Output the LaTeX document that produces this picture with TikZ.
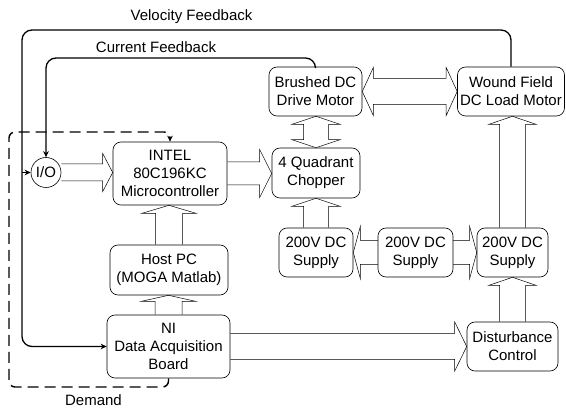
\documentclass[tikz,border=0pt]{standalone}
\usepackage{fontspec}
\setmainfont{Liberation Sans}
\usetikzlibrary{calc,arrows.meta}
\pgfdeclarelayer{bg}
\pgfsetlayers{bg,main}

\tikzset{
  box/.style={draw, line width=0.6pt, rounded corners=8pt, fill=white,
    align=center, inner sep=2pt, font=\fontsize{15}{18}\selectfont},
  blk/.style={draw, line width=0.5pt, fill=white, line join=miter},
  fb/.style={line width=1.3pt, rounded corners=10pt,
    -{Stealth[length=6pt,width=5.5pt]}},
  dem/.style={line width=1.4pt, dash pattern=on 11pt off 6pt,
    rounded corners=6pt, -{Stealth[length=6pt,width=5.5pt]}},
  lbl/.style={font=\fontsize{15}{18}\selectfont, inner sep=0pt}
}

% hollow block arrows: #1 start anchor, #2 end anchor,
% #3 shaft half width, #4 head half width, #5 head length
\newcommand\blkup[5]{\draw[blk] let \p1=(#1),\p2=(#2) in
  (\x1-#3,\y1) -- (\x1-#3,\y2-#5) -- (\x1-#4,\y2-#5) -- (\x1,\y2)
  -- (\x1+#4,\y2-#5) -- (\x1+#3,\y2-#5) -- (\x1+#3,\y1);}
\newcommand\blkupdown[5]{\draw[blk] let \p1=(#1),\p2=(#2) in
  (\x1-#3,\y1+#5) -- (\x1-#3,\y2-#5) -- (\x1-#4,\y2-#5) -- (\x1,\y2)
  -- (\x1+#4,\y2-#5) -- (\x1+#3,\y2-#5) -- (\x1+#3,\y1+#5)
  -- (\x1+#4,\y1+#5) -- (\x1,\y1) -- (\x1-#4,\y1+#5) -- cycle;}
\newcommand\blkright[5]{\draw[blk] let \p1=(#1),\p2=(#2) in
  (\x1,\y1+#3) -- (\x2-#5,\y1+#3) -- (\x2-#5,\y1+#4) -- (\x2,\y1)
  -- (\x2-#5,\y1-#4) -- (\x2-#5,\y1-#3) -- (\x1,\y1-#3);}
\newcommand\blkboth[5]{\draw[blk] let \p1=(#1),\p2=(#2) in
  (\x1+#5,\y1+#3) -- (\x2-#5,\y1+#3) -- (\x2-#5,\y1+#4) -- (\x2,\y1)
  -- (\x2-#5,\y1-#4) -- (\x2-#5,\y1-#3) -- (\x1+#5,\y1-#3)
  -- (\x1+#5,\y1-#4) -- (\x1,\y1) -- (\x1+#5,\y1+#4) -- cycle;}

\begin{document}
\begin{tikzpicture}[x=1pt, y=-1pt]
\useasboundingbox (0,0) rectangle (566,409);

% blocks
\node[box, minimum width=114pt, minimum height=63pt] (intel) at (170,173.5)
  {INTEL\\80C196KC\\Microcontroller};
\node[box, minimum width=118pt, minimum height=50pt] (host) at (169,270)
  {Host PC\\(MOGA Matlab)};
\node[box, minimum width=123pt, minimum height=63pt] (daq) at (168.5,346.5)
  {NI\\Data Acquisition\\Board};
\node[box, minimum width=93pt, minimum height=49pt] (brushed) at (315.5,91.5)
  {Brushed DC\\Drive Motor};
\node[box, minimum width=107pt, minimum height=49pt] (wound) at (511,91.5)
  {Wound Field\\DC Load Motor};
\node[box, minimum width=88pt, minimum height=50pt] (chopper) at (316,173)
  {4 Quadrant\\Chopper};
\node[box, minimum width=74pt, minimum height=49pt] (s1) at (316,252.5)
  {200V DC\\Supply};
\node[box, minimum width=75pt, minimum height=49pt] (s2) at (415.5,252.5)
  {200V DC\\Supply};
\node[box, minimum width=71pt, minimum height=49pt] (s3) at (512.5,252.5)
  {200V DC\\Supply};
\node[box, minimum width=91pt, minimum height=49pt] (dist) at (512.5,346.5)
  {Disturbance\\Control};
\node[draw, circle, line width=0.6pt, fill=white, minimum size=30pt,
  inner sep=0pt, font=\fontsize{15}{18}\selectfont] (io) at (46,172.5) {I/O};

% power and signal paths
\begin{pgfonlayer}{bg}
  \blkright{io.east}{intel.west}{8.5pt}{19pt}{10pt}
  \blkright{intel.east}{chopper.west}{11.5pt}{24pt}{12pt}
  \blkboth{brushed.east}{wound.west}{13pt}{24pt}{11pt}
  \blkboth{s1.east}{s3.west}{12pt}{26pt}{7pt}
  \blkright{daq.east}{dist.west}{13pt}{24.5pt}{12pt}
  \blkup{host.north}{intel.south}{13.5pt}{27pt}{8pt}
  \blkup{daq.north}{host.south}{13.5pt}{27pt}{6pt}
  \blkupdown{chopper.north}{brushed.south}{12.5pt}{24pt}{8pt}
  \blkup{s1.north}{chopper.south}{12.5pt}{24pt}{8pt}
  \blkup{s3.north}{wound.south}{13pt}{23.5pt}{8pt}
  \blkup{dist.north}{s3.south}{13pt}{23.5pt}{8pt}
\end{pgfonlayer}

% feedback loops
\coordinate (vtop) at (22,30);
\coordinate (ctop) at (46,58);
\draw[fb] (wound.north) |- (vtop) |- (daq.west);
\draw[fb] (vtop |- io.west) -- (io.west);
\draw[fb] (brushed.north) |- (ctop) -- (io.north);

% demand signal
\coordinate (dbot) at (9,387);
\coordinate (dtop) at (9,132);
\draw[dem] (daq.south) |- (dbot) -- (dtop) -| (intel.north);

% labels
\node[lbl] (vlab) at (191.5,17) {Velocity Feedback};
\node[lbl] (clab) at (156,47) {Current Feedback};
\node[lbl] (dlab) at (93.5,400) {Demand};
\end{tikzpicture}
\end{document}
